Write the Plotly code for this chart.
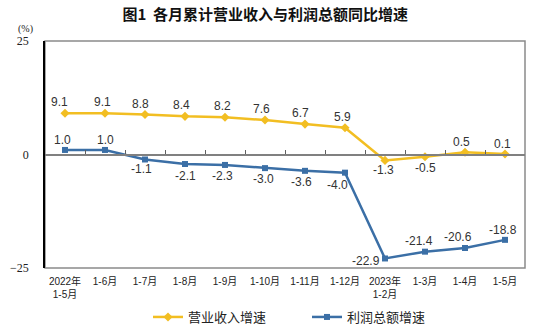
import plotly.graph_objects as go

categories = ["2022年<br>1-5月", "1-6月", "1-7月", "1-8月", "1-9月", "1-10月",
              "1-11月", "1-12月", "2023年<br>1-2月", "1-3月", "1-4月", "1-5月"]
revenue_growth = [9.1, 9.1, 8.8, 8.4, 8.2, 7.6, 6.7, 5.9, -1.3, -0.5, 0.5, 0.1]
profit_growth = [1.0, 1.0, -1.1, -2.1, -2.3, -3.0, -3.6, -4.0, -22.9, -21.4, -20.6, -18.8]
y_ticks = [25, 0, -25]

# label offsets in pixels (style only)
rev_dx = [-6, -3, -5, -4, -3, -4, -5, -3, -2, 0, -4, -3]
rev_dy = [11, 11, 11, 11, 11, 11, 11, 11, -10, -11, 10, 10]
prof_dx = [-3, 0, -4, 0, -3, -2, -4, -8, -19, -6, -7, -2]
prof_dy = [10, 10, -10, -12, -11, -11, -11, -12, -3, 11, 11, 10]

YELLOW = "#F2BE22"
BLUE = "#3B6FA6"
LABEL_FONT = dict(family="Liberation Sans, Arial, sans-serif", size=12, color="#333333")

fig = go.Figure()
fig.add_trace(go.Scatter(
    x=categories, y=revenue_growth, name="营业收入增速",
    mode="lines+markers",
    line=dict(color=YELLOW, width=2.5),
    marker=dict(symbol="diamond", size=7, color=YELLOW),
    cliponaxis=False,
))
fig.add_trace(go.Scatter(
    x=categories, y=profit_growth, name="利润总额增速",
    mode="lines+markers",
    line=dict(color=BLUE, width=2.5),
    marker=dict(symbol="square", size=6, color=BLUE),
    cliponaxis=False,
))
# invisible trace on overlay axis for zero-line ticks
fig.add_trace(go.Scatter(x=categories, y=[None] * len(categories), xaxis="x2",
                         showlegend=False, hoverinfo="skip"))

annotations = []
for cat, v, dx, dy in zip(categories, revenue_growth, rev_dx, rev_dy):
    annotations.append(dict(x=cat, y=v, xref="x", yref="y", text=f"{v:.1f}",
                            showarrow=False, xshift=dx, yshift=dy, font=LABEL_FONT))
for cat, v, dx, dy in zip(categories, profit_growth, prof_dx, prof_dy):
    annotations.append(dict(x=cat, y=v, xref="x", yref="y", text=f"{v:.1f}",
                            showarrow=False, xshift=dx, yshift=dy, font=LABEL_FONT))
annotations.append(dict(text="(%)", xref="paper", yref="paper",
                        x=(25 - 45) / 480, y=(268 - 29) / 227, xanchor="center", yanchor="middle",
                        showarrow=False,
                        font=dict(family="Liberation Serif, serif", size=10, color="#222222")))

fig.update_layout(
    width=547, height=333,
    margin=dict(l=45, r=22, t=41, b=65, autoexpand=False),
    paper_bgcolor="white", plot_bgcolor="white",
    title=dict(text="<b>图1  各月累计营业收入与利润总额同比增速</b>",
               x=0.485, xanchor="center", y=1 - 15 / 333, yanchor="middle",
               font=dict(family="Noto Sans CJK SC", size=15, color="#111111")),
    xaxis=dict(type="category", range=[-0.5, 11.5], showgrid=False, showline=False,
               ticks="", tickfont=dict(family="Liberation Sans, Noto Sans CJK SC", size=10, color="#222222"),
               tickangle=0, ticklabelstandoff=6),
    xaxis2=dict(type="category", range=[-0.5, 11.5], overlaying="x", anchor="free",
                position=0.5, side="bottom", showline=True, linecolor="#808080",
                linewidth=2, ticks="inside", tickson="boundaries", ticklen=4,
                tickcolor="#606060", showticklabels=False, showgrid=False),
    yaxis=dict(range=[-25, 25], tickvals=y_ticks, showgrid=False, zeroline=False,
               showline=True, linecolor="#000000", linewidth=1.5, ticks="",
               ticklabelstandoff=12,
               tickfont=dict(family="Liberation Serif, Times New Roman, serif", size=12, color="#222222")),
    showlegend=True,
    legend=dict(orientation="h", x=(148 - 45) / 480, xanchor="left",
                y=(268 - 317) / 227, yanchor="middle",
                entrywidth=114, entrywidthmode="pixels",
                font=dict(family="Noto Sans CJK SC", size=13, color="#222222"),
                bgcolor="rgba(0,0,0,0)"),
    shapes=[dict(type="rect", xref="paper", yref="paper", x0=0, x1=1, y0=0, y1=1,
                 line=dict(color="#8a8a8a", width=1.5), layer="below")],
    annotations=annotations,
)

fig.write_html("out.html")
